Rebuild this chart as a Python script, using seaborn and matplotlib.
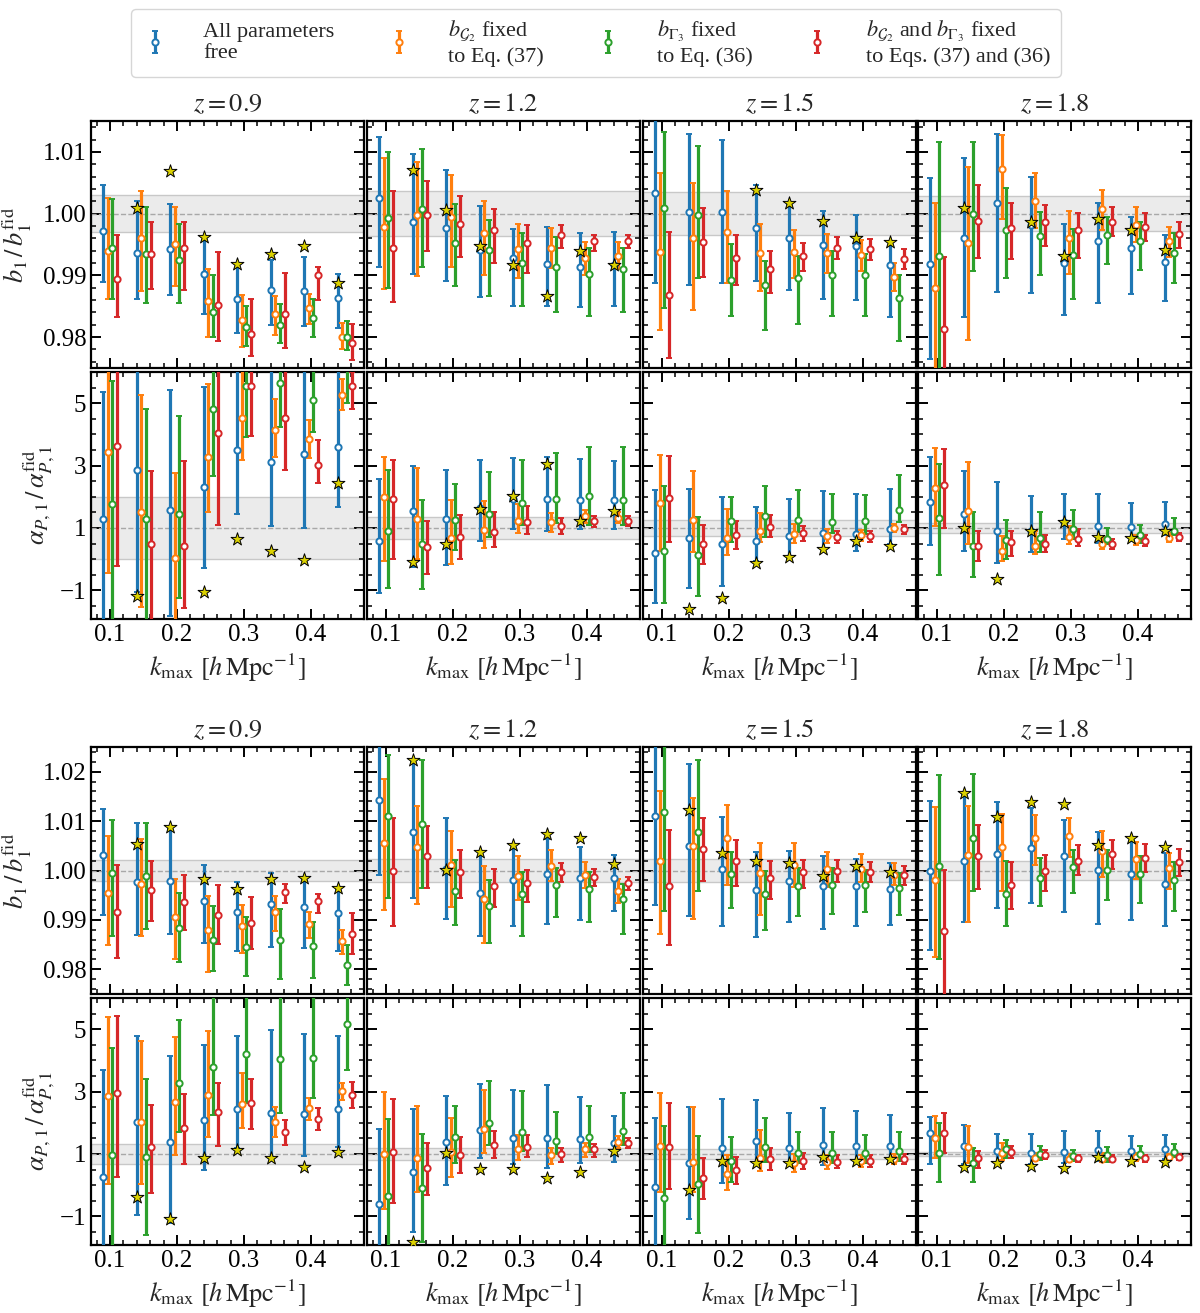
import numpy as np
import matplotlib
matplotlib.use("Agg")
import matplotlib.pyplot as plt
import seaborn as sns
from matplotlib.ticker import MultipleLocator, FixedLocator, FormatStrFormatter

nan = np.nan
KMAX = [0.10, 0.15, 0.20, 0.25, 0.30, 0.35, 0.40, 0.45]
REDSHIFTS = ["0.9", "1.2", "1.5", "1.8"]
SERIES_LABELS = [
    "All parameters\nfree",
    "$b_{\\mathcal{G}_2}$ fixed\nto Eq. (37)",
    "$b_{\\Gamma_3}$ fixed\nto Eq. (36)",
    "$b_{\\mathcal{G}_2}$ and $b_{\\Gamma_3}$ fixed\nto Eqs. (37) and (36)",
]

# ---------------- block A (top) : b1 ----------------
A_B1_Z09_MID = [[0.9972,0.9936,0.9943,0.9903,0.9861,0.9876,0.9874,0.9864],
                [0.9940,0.9960,0.9951,0.9859,0.9828,0.9837,0.9847,0.9801],
                [0.9945,0.9934,0.9925,0.9840,0.9816,0.9820,0.9831,0.9801],
                [0.9894,0.9935,0.9945,0.9852,0.9805,0.9837,0.9900,0.9790]]
A_B1_Z09_LO = [[0.9889,0.9862,0.9868,0.9837,0.9807,0.9820,0.9818,0.9815],
               [0.9861,0.9875,0.9882,0.9801,0.9784,0.9804,0.9821,0.9780],
               [0.9862,0.9855,0.9855,0.9800,0.9785,0.9790,0.9801,0.9779],
               [0.9833,0.9878,0.9876,0.9793,0.9770,0.9783,0.9860,0.9763]]
A_B1_Z09_HI = [[1.0047,1.0020,1.0016,0.9957,0.9912,0.9925,0.9929,0.9902],
               [1.0026,1.0037,1.0010,0.9911,0.9868,0.9867,0.9870,0.9823],
               [1.0023,1.0010,0.9984,0.9901,0.9851,0.9853,0.9861,0.9826],
               [0.9965,0.9986,0.9987,0.9938,0.9862,0.9904,0.9914,0.9821]]
A_B1_Z09_STAR = [nan,1.0009,1.0069,0.9962,0.9919,0.9934,0.9948,0.9888]

A_B1_Z12_MID = [[1.0026,0.9986,0.9976,0.9941,0.9928,0.9918,0.9913,0.9916],
                [0.9979,0.9997,0.9995,0.9968,0.9942,0.9945,0.9928,0.9932],
                [0.9993,1.0008,0.9953,0.9941,0.9920,0.9913,0.9903,0.9910],
                [0.9944,0.9998,0.9984,0.9974,0.9952,0.9966,0.9956,0.9956]]
A_B1_Z12_LO = [[0.9914,0.9903,0.9891,0.9865,0.9851,0.9850,0.9848,0.9850],
               [0.9878,0.9899,0.9913,0.9900,0.9895,0.9912,0.9901,0.9910],
               [0.9879,0.9913,0.9882,0.9867,0.9850,0.9841,0.9835,0.9840],
               [0.9857,0.9939,0.9929,0.9920,0.9904,0.9944,0.9940,0.9944]]
A_B1_Z12_HI = [[1.0124,1.0097,1.0071,1.0013,0.9975,0.9978,0.9969,0.9970],
               [1.0090,1.0084,1.0063,1.0020,0.9983,0.9976,0.9954,0.9954],
               [1.0100,1.0105,1.0015,0.9990,0.9969,0.9962,0.9945,0.9945],
               [1.0036,1.0053,1.0029,1.0008,0.9982,0.9982,0.9966,0.9965]]
A_B1_Z12_STAR = [nan,1.0070,1.0006,0.9948,0.9916,0.9866,0.9940,0.9917]

A_B1_Z15_MID = [[1.0033,1.0003,1.0003,0.9976,0.9960,0.9950,0.9947,0.9917],
                [0.9938,0.9961,0.9971,0.9936,0.9938,0.9936,0.9933,0.9898],
                [1.0009,0.9998,0.9893,0.9884,0.9895,0.9901,0.9901,0.9864],
                [0.9868,0.9954,0.9928,0.9911,0.9932,0.9945,0.9943,0.9927]]
A_B1_Z15_LO = [[0.9888,0.9884,0.9887,0.9891,0.9877,0.9862,0.9860,0.9832],
               [0.9811,0.9844,0.9887,0.9874,0.9895,0.9904,0.9907,0.9874],
               [0.9847,0.9896,0.9834,0.9812,0.9822,0.9834,0.9835,0.9794],
               [0.9766,0.9897,0.9884,0.9871,0.9907,0.9926,0.9925,0.9910]]
A_B1_Z15_HI = [[1.0160,1.0129,1.0119,1.0046,1.0016,1.0005,0.9997,0.9955],
               [1.0065,1.0049,1.0037,0.9983,0.9974,0.9967,0.9958,0.9920],
               [1.0132,1.0110,0.9951,0.9924,0.9931,0.9939,0.9934,0.9901],
               [0.9971,1.0009,0.9966,0.9940,0.9953,0.9962,0.9959,0.9942]]
A_B1_Z15_STAR = [nan,nan,1.0162,1.0039,1.0017,0.9988,0.9960,0.9954]

A_B1_Z18_MID = [[0.9919,0.9961,1.0017,0.9982,0.9920,0.9955,0.9945,0.9922],
                [0.9879,0.9953,1.0072,1.0020,0.9960,1.0007,0.9982,0.9955],
                [0.9931,1.0000,0.9973,0.9963,0.9933,0.9966,0.9956,0.9937],
                [0.9813,0.9988,0.9977,0.9986,0.9974,0.9987,0.9979,0.9967]]
A_B1_Z18_LO = [[0.9764,0.9832,0.9873,0.9871,0.9836,0.9855,0.9870,0.9859],
               [0.9720,0.9796,0.9991,0.9976,0.9902,0.9974,0.9954,0.9929],
               [0.9730,0.9907,0.9896,0.9900,0.9862,0.9919,0.9909,0.9888],
               [0.9700,0.9928,0.9927,0.9948,0.9928,0.9963,0.9956,0.9944]]
A_B1_Z18_HI = [[1.0058,1.0090,1.0129,1.0059,0.9984,1.0018,0.9995,0.9966],
               [1.0018,1.0075,1.0127,1.0065,1.0004,1.0039,1.0011,0.9979],
               [1.0116,1.0116,1.0041,1.0003,0.9975,0.9995,0.9986,0.9968],
               [0.9929,1.0046,1.0018,1.0014,1.0001,1.0011,1.0001,0.9987]]
A_B1_Z18_STAR = [nan,1.0009,nan,0.9986,0.9932,0.9992,0.9973,0.9941]

# ---------------- block A (top) : alpha_P,1 ----------------
A_AL_Z09_MID = [[1.30,2.87,1.59,2.30,3.50,3.11,3.38,3.59],
                [3.42,1.51,0.03,3.29,4.52,4.15,3.84,5.27],
                [1.76,1.28,1.46,4.82,5.54,5.66,5.10,6.20],
                [3.63,0.47,0.41,4.06,5.55,4.52,3.02,5.54]]
A_AL_Z09_LO = [[-2.80,-1.04,-1.82,-0.27,1.44,1.06,1.00,1.68],
               [-0.46,-1.53,-2.70,1.52,3.19,3.27,3.23,4.79],
               [-2.20,-2.20,-1.26,2.68,3.93,4.25,4.07,4.99],
               [-0.21,-2.40,-1.58,1.09,3.96,2.87,2.43,4.82]]
A_AL_Z09_HI = [[5.35,6.80,5.42,5.51,6.50,6.50,6.50,6.50],
               [7.00,5.26,2.76,5.62,6.30,5.12,4.47,5.76],
               [5.71,4.80,4.58,7.00,7.00,7.00,6.10,7.40],
               [7.50,2.84,3.15,7.00,7.00,6.50,3.81,6.00]]
A_AL_Z09_STAR = [nan,-1.19,nan,-1.04,0.66,0.25,-0.02,2.43]

A_AL_Z12_MID = [[0.59,1.53,1.30,1.64,1.93,1.92,1.89,1.89],
                [1.98,1.30,0.68,0.94,1.22,1.19,1.38,1.32],
                [0.90,0.47,1.26,1.45,1.81,1.94,2.02,1.89],
                [1.94,0.39,0.70,0.88,1.20,1.05,1.22,1.22]]
A_AL_Z12_LO = [[-1.10,-0.25,-0.20,0.57,0.95,0.91,0.98,0.98],
               [-0.06,-0.01,-0.15,0.36,0.83,0.87,1.16,1.15],
               [-0.92,-0.95,0.28,0.71,1.11,1.16,1.11,1.09],
               [-0.01,-0.49,0.01,0.39,0.79,0.80,1.03,1.05]]
A_AL_Z12_HI = [[2.56,2.99,2.87,3.19,3.25,3.28,3.20,3.16],
               [3.27,2.92,1.88,1.85,1.78,1.49,1.58,1.50],
               [2.86,1.91,2.42,2.79,3.19,3.41,3.61,3.59],
               [3.17,1.23,1.41,1.50,1.69,1.32,1.39,1.37]]
A_AL_Z12_STAR = [nan,-0.09,0.49,1.61,2.01,3.06,1.22,1.53]

A_AL_Z15_MID = [[0.19,0.68,0.48,0.59,0.73,0.84,0.81,0.96],
                [1.80,1.26,0.68,0.90,0.82,0.73,0.77,1.00],
                [0.25,0.12,1.23,1.38,1.27,1.19,1.21,1.58],
                [1.96,0.49,0.78,1.02,0.83,0.70,0.73,0.95]]
A_AL_Z15_LO = [[-1.40,-0.92,-0.86,-0.07,-0.01,0.31,0.25,0.47],
               [0.27,0.24,0.12,0.54,0.52,0.53,0.57,0.86],
               [-1.42,-1.17,0.54,0.71,0.86,0.85,0.82,1.19],
               [0.54,-0.17,0.34,0.70,0.57,0.51,0.55,0.81]]
A_AL_Z15_HI = [[2.22,2.26,1.98,1.66,1.94,2.17,2.10,2.25],
               [3.34,2.82,1.62,1.48,1.13,0.98,0.94,1.13],
               [2.36,1.35,1.99,2.36,2.23,2.08,2.07,2.70],
               [3.31,1.11,1.22,1.41,1.07,0.90,0.91,1.11]]
A_AL_Z15_STAR = [nan,-1.60,-1.26,-0.12,0.06,0.31,0.59,0.43]

A_AL_Z18_MID = [[1.82,1.46,0.89,0.91,1.20,1.06,1.03,1.13],
                [2.28,1.53,0.25,0.41,0.70,0.47,0.61,0.69],
                [1.32,0.42,0.61,0.68,0.98,0.66,0.77,0.91],
                [2.39,0.42,0.54,0.50,0.65,0.49,0.57,0.71]]
A_AL_Z18_LO = [[0.45,0.25,-0.13,0.22,0.65,0.52,0.59,0.77],
               [1.07,0.50,-0.07,0.17,0.47,0.31,0.45,0.54],
               [-0.52,-0.58,0.01,0.23,0.63,0.47,0.52,0.77],
               [1.00,-0.06,0.10,0.23,0.43,0.31,0.43,0.57]]
A_AL_Z18_HI = [[3.29,2.84,2.47,2.01,2.09,2.10,1.80,1.82],
               [3.56,3.13,0.73,0.89,1.05,0.73,0.77,0.84],
               [3.04,1.52,1.27,1.51,1.59,1.00,1.11,1.32],
               [3.52,0.89,0.91,0.77,0.95,0.63,0.77,0.84]]
A_AL_Z18_STAR = [nan,1.00,-0.65,0.91,1.19,0.70,0.68,0.89]

# ---------------- block B (bottom) : b1 ----------------
B_B1_Z09_MID = [[1.0032,0.9977,0.9979,0.9939,0.9917,0.9933,0.9927,0.9913],
                [0.9954,0.9972,0.9906,0.9880,0.9888,0.9916,0.9891,0.9857],
                [0.9995,0.9989,0.9884,0.9859,0.9846,0.9859,0.9847,0.9809],
                [0.9915,0.9960,0.9936,0.9909,0.9894,0.9957,0.9938,0.9871]]
B_B1_Z09_LO = [[0.9910,0.9870,0.9871,0.9854,0.9838,0.9845,0.9843,0.9838],
               [0.9849,0.9867,0.9820,0.9795,0.9834,0.9877,0.9864,0.9831],
               [0.9867,0.9882,0.9815,0.9797,0.9786,0.9781,0.9783,0.9768],
               [0.9822,0.9898,0.9879,0.9852,0.9842,0.9934,0.9913,0.9830]]
B_B1_Z09_HI = [[1.0125,1.0096,1.0085,1.0012,0.9976,0.9995,0.9982,0.9963],
               [1.0069,1.0063,0.9983,0.9948,0.9931,0.9948,0.9917,0.9880],
               [1.0103,1.0097,0.9954,0.9928,0.9905,0.9923,0.9895,0.9850],
               [1.0012,1.0020,0.9991,0.9970,0.9946,0.9973,0.9952,0.9914]]
B_B1_Z09_STAR = [nan,1.0054,1.0088,0.9983,0.9962,0.9983,0.9985,0.9965]

B_B1_Z12_MID = [[1.0143,1.0077,1.0004,0.9954,0.9981,0.9992,0.9984,0.9985],
                [1.0056,1.0047,1.0011,0.9942,0.9989,1.0010,0.9991,0.9958],
                [1.0110,1.0094,0.9959,0.9928,0.9952,0.9971,0.9962,0.9942],
                [1.0000,1.0029,0.9997,0.9968,0.9974,0.9997,0.9987,0.9974]]
B_B1_Z12_LO = [[0.9991,0.9945,0.9902,0.9867,0.9888,0.9892,0.9899,0.9919],
               [0.9921,0.9933,0.9927,0.9853,0.9940,0.9978,0.9965,0.9934],
               [0.9944,0.9964,0.9889,0.9853,0.9867,0.9906,0.9896,0.9871],
               [0.9887,0.9964,0.9944,0.9926,0.9936,0.9976,0.9968,0.9960]]
B_B1_Z12_HI = [[1.0260,1.0219,1.0106,1.0030,1.0044,1.0064,1.0047,1.0032],
               [1.0185,1.0131,1.0080,1.0009,1.0030,1.0042,1.0018,0.9982],
               [1.0234,1.0223,1.0021,0.9981,0.9997,1.0005,0.9997,0.9973],
               [1.0106,1.0090,1.0042,1.0003,1.0001,1.0016,1.0003,0.9987]]
B_B1_Z12_STAR = [nan,1.0224,1.0001,1.0038,1.0051,1.0073,1.0066,1.0014]

B_B1_Z15_MID = [[1.0110,1.0050,1.0004,0.9961,0.9979,0.9968,0.9968,0.9963],
                [1.0020,1.0049,1.0065,0.9994,1.0012,1.0003,1.0004,0.9991],
                [1.0119,1.0078,0.9993,0.9952,0.9969,0.9970,0.9971,0.9965],
                [0.9968,1.0044,1.0020,0.9985,0.9996,1.0000,0.9997,0.9991]]
B_B1_Z15_LO = [[0.9931,0.9908,0.9888,0.9865,0.9896,0.9882,0.9888,0.9890],
               [0.9871,0.9902,0.9971,0.9909,0.9966,0.9966,0.9976,0.9971],
               [0.9918,0.9959,0.9924,0.9880,0.9908,0.9911,0.9917,0.9910],
               [0.9849,0.9978,0.9968,0.9943,0.9965,0.9976,0.9976,0.9971]]
B_B1_Z15_HI = [[1.0270,1.0216,1.0108,1.0037,1.0040,1.0030,1.0024,1.0015],
               [1.0161,1.0147,1.0133,1.0055,1.0055,1.0038,1.0033,1.0015],
               [1.0280,1.0224,1.0038,1.0000,1.0005,1.0005,1.0002,0.9995],
               [1.0082,1.0106,1.0061,1.0020,1.0022,1.0022,1.0018,1.0009]]
B_B1_Z15_STAR = [nan,1.0123,1.0036,1.0020,1.0016,0.9989,1.0009,0.9997]

B_B1_Z18_MID = [[0.9999,1.0020,1.0034,1.0045,1.0030,1.0001,0.9992,0.9972],
                [0.9981,1.0032,1.0047,1.0066,1.0069,1.0040,1.0024,1.0006],
                [1.0010,1.0066,0.9952,0.9985,1.0007,1.0002,0.9993,0.9980],
                [0.9877,1.0029,0.9971,0.9998,1.0020,1.0034,1.0026,1.0017]]
B_B1_Z18_LO = [[0.9840,0.9896,0.9924,0.9934,0.9917,0.9892,0.9900,0.9888],
               [0.9824,0.9895,0.9958,1.0011,1.0027,0.9987,0.9982,0.9963],
               [0.9820,0.9959,0.9887,0.9929,0.9955,0.9941,0.9934,0.9919],
               [0.9720,0.9963,0.9923,0.9959,0.9990,1.0003,0.9997,0.9989]]
B_B1_Z18_HI = [[1.0141,1.0153,1.0138,1.0126,1.0103,1.0077,1.0057,1.0035],
               [1.0128,1.0130,1.0115,1.0113,1.0107,1.0079,1.0057,1.0036],
               [1.0193,1.0195,1.0019,1.0026,1.0042,1.0042,1.0030,1.0018],
               [1.0001,1.0092,1.0017,1.0032,1.0051,1.0062,1.0053,1.0043]]
B_B1_Z18_STAR = [nan,1.0157,1.0108,1.0139,1.0135,1.0051,1.0066,1.0047]

# ---------------- block B (bottom) : alpha_P,1 ----------------
B_AL_Z09_MID = [[0.26,2.04,1.39,2.08,2.43,2.32,2.27,2.44],
                [2.87,2.04,2.65,2.89,2.59,2.04,2.46,3.02],
                [0.97,0.89,3.29,3.80,4.21,4.06,4.09,5.18],
                [2.95,1.22,1.84,2.36,2.64,1.69,2.11,2.89]]
B_AL_Z09_LO = [[-3.00,-0.97,-1.20,0.47,1.18,0.88,0.93,1.23],
               [0.03,0.03,0.97,1.55,1.84,1.53,2.09,2.73],
               [-2.40,-1.59,1.69,2.25,2.62,2.30,2.80,3.69],
               [0.25,-0.26,0.67,1.26,1.79,1.29,1.77,2.46]]
B_AL_Z09_HI = [[3.68,4.79,4.14,4.49,4.78,4.96,4.86,4.79],
               [5.40,4.62,4.76,4.94,3.60,2.49,2.80,3.29],
               [4.40,3.39,5.31,6.50,6.50,6.50,6.50,6.50],
               [5.43,2.57,2.91,3.28,3.40,2.09,2.46,3.32]]
B_AL_Z09_STAR = [nan,-0.39,-1.10,0.86,1.13,0.86,0.59,1.07]

B_AL_Z12_MID = [[-0.59,0.43,1.37,1.77,1.50,1.50,1.47,1.34],
                [1.00,0.86,1.05,1.80,1.16,0.95,1.16,1.39],
                [-0.36,-0.08,1.53,1.98,1.69,1.43,1.55,1.75],
                [1.06,0.54,0.97,1.29,1.23,0.99,1.16,1.34]]
B_AL_Z12_LO = [[-3.00,-1.51,0.01,0.86,0.67,0.56,0.71,0.73],
               [-0.77,-0.21,0.27,1.02,0.80,0.69,0.91,1.20],
               [-2.50,-1.81,0.70,1.29,1.10,0.99,1.07,1.29],
               [-0.58,-0.31,0.40,0.88,0.90,0.75,0.91,1.18]]
B_AL_Z12_HI = [[1.80,2.43,2.86,3.23,3.06,3.21,2.82,2.22],
               [2.97,2.54,2.14,3.05,1.61,1.20,1.34,1.59],
               [2.12,1.63,2.55,3.35,3.02,2.36,2.53,2.96],
               [2.75,1.34,1.54,1.72,1.61,1.20,1.33,1.50]]
B_AL_Z12_STAR = [nan,-1.83,1.04,0.51,0.51,0.22,0.43,1.11]

B_AL_Z15_MID = [[-0.05,0.72,1.20,1.42,1.20,1.29,1.27,1.27],
                [1.27,0.75,0.36,0.88,0.70,0.73,0.78,0.84],
                [-0.42,0.03,0.78,1.23,1.04,1.04,1.02,1.10],
                [1.23,0.22,0.49,0.83,0.78,0.73,0.78,0.84]]
B_AL_Z15_LO = [[-2.50,-1.10,0.08,0.70,0.70,0.63,0.75,0.78],
               [-0.23,-0.21,-0.15,0.46,0.43,0.52,0.59,0.67],
               [-2.40,-1.54,0.11,0.75,0.70,0.70,0.70,0.78],
               [-0.13,-0.45,0.04,0.49,0.52,0.54,0.59,0.67]]
B_AL_Z15_HI = [[2.16,2.52,2.76,2.73,2.32,2.48,2.38,2.25],
               [2.94,2.52,0.95,1.77,0.99,0.97,0.95,0.99],
               [1.90,1.58,1.53,2.16,1.69,1.69,1.61,1.69],
               [2.62,0.86,0.91,1.18,1.02,0.95,0.95,0.99]]
B_AL_Z15_STAR = [nan,-0.15,0.78,0.70,0.70,0.91,0.78,0.84]

B_AL_Z18_MID = [[1.68,1.26,1.10,1.02,1.07,1.13,1.11,1.16],
                [1.52,1.21,1.02,0.88,0.83,0.83,0.91,0.91],
                [1.04,0.72,1.15,1.00,0.94,0.95,1.00,1.07],
                [1.68,0.86,1.07,0.97,0.86,0.84,0.86,0.91]]
B_AL_Z18_LO = [[0.67,0.67,0.73,0.67,0.70,0.78,0.78,0.84],
               [0.86,0.70,0.81,0.78,0.73,0.73,0.78,0.81],
               [0.11,0.11,0.88,0.81,0.78,0.73,0.86,0.91],
               [1.02,0.56,0.88,0.84,0.75,0.73,0.75,0.81]]
B_AL_Z18_HI = [[2.17,1.93,1.63,1.63,1.72,1.72,1.58,1.60],
               [2.21,1.88,1.34,1.02,0.99,1.02,1.04,1.00],
               [1.98,1.18,1.45,1.27,1.13,1.21,1.26,1.31],
               [2.30,1.10,1.26,1.13,0.97,0.97,0.97,1.00]]
B_AL_Z18_STAR = [nan,0.59,0.70,0.62,0.54,0.91,0.78,0.75]

# half-widths of the grey reference bands
BAND_A_B1 = [0.0030, 0.0036, 0.0035, 0.0028]
BAND_A_AL = [1.00, 0.35, 0.26, 0.16]
BAND_B_B1 = [0.0022, 0.0023, 0.0024, 0.0020]
BAND_B_AL = [0.31, 0.20, 0.15, 0.06]

# ---------------- style ----------------
COLORS = ["#1f77b4", "#ff7f0e", "#2ca02c", "#d62728"]
OFFSETS = [-0.0105, -0.0035, 0.0035, 0.0105]
STAR_COLOR = "#dcd200"

sns.set_theme(style="ticks")
plt.rcParams["font.family"] = ["Liberation Serif", "DejaVu Serif"]
plt.rcParams["mathtext.fontset"] = "stix"
plt.rcParams["axes.linewidth"] = 1.5
plt.rcParams["axes.edgecolor"] = "black"

PANELS = {
    ("A", "b1"): [(A_B1_Z09_MID, A_B1_Z09_LO, A_B1_Z09_HI, A_B1_Z09_STAR),
                  (A_B1_Z12_MID, A_B1_Z12_LO, A_B1_Z12_HI, A_B1_Z12_STAR),
                  (A_B1_Z15_MID, A_B1_Z15_LO, A_B1_Z15_HI, A_B1_Z15_STAR),
                  (A_B1_Z18_MID, A_B1_Z18_LO, A_B1_Z18_HI, A_B1_Z18_STAR)],
    ("A", "al"): [(A_AL_Z09_MID, A_AL_Z09_LO, A_AL_Z09_HI, A_AL_Z09_STAR),
                  (A_AL_Z12_MID, A_AL_Z12_LO, A_AL_Z12_HI, A_AL_Z12_STAR),
                  (A_AL_Z15_MID, A_AL_Z15_LO, A_AL_Z15_HI, A_AL_Z15_STAR),
                  (A_AL_Z18_MID, A_AL_Z18_LO, A_AL_Z18_HI, A_AL_Z18_STAR)],
    ("B", "b1"): [(B_B1_Z09_MID, B_B1_Z09_LO, B_B1_Z09_HI, B_B1_Z09_STAR),
                  (B_B1_Z12_MID, B_B1_Z12_LO, B_B1_Z12_HI, B_B1_Z12_STAR),
                  (B_B1_Z15_MID, B_B1_Z15_LO, B_B1_Z15_HI, B_B1_Z15_STAR),
                  (B_B1_Z18_MID, B_B1_Z18_LO, B_B1_Z18_HI, B_B1_Z18_STAR)],
    ("B", "al"): [(B_AL_Z09_MID, B_AL_Z09_LO, B_AL_Z09_HI, B_AL_Z09_STAR),
                  (B_AL_Z12_MID, B_AL_Z12_LO, B_AL_Z12_HI, B_AL_Z12_STAR),
                  (B_AL_Z15_MID, B_AL_Z15_LO, B_AL_Z15_HI, B_AL_Z15_STAR),
                  (B_AL_Z18_MID, B_AL_Z18_LO, B_AL_Z18_HI, B_AL_Z18_STAR)],
}
BANDS = {("A", "b1"): BAND_A_B1, ("A", "al"): BAND_A_AL,
         ("B", "b1"): BAND_B_B1, ("B", "al"): BAND_B_AL}

W, H = 1200, 1313
fig = plt.figure(figsize=(W / 100, H / 100), dpi=100)
COL_LEFT = [91, 367, 643, 918]
COL_W = 273
ROW_TOPS = {("A", "b1"): 121, ("A", "al"): 372, ("B", "b1"): 747, ("B", "al"): 998}
ROW_H = 247
YLIMS = {("A", "b1"): (0.975, 1.015), ("A", "al"): (-1.92, 6.0),
         ("B", "b1"): (0.975, 1.025), ("B", "al"): (-1.92, 6.0)}

handles = []
for key, panels in PANELS.items():
    block, qty = key
    for ci, (mid, lo, hi, star) in enumerate(panels):
        top = ROW_TOPS[key]
        ax = fig.add_axes([COL_LEFT[ci] / W, 1 - (top + ROW_H) / H, COL_W / W, ROW_H / H])
        bw = BANDS[key][ci]
        ax.axhspan(1 - bw, 1 + bw, facecolor="#ebebeb", edgecolor="#c8c8c8",
                   linewidth=1.0, zorder=0)
        ax.axhline(1.0, color="#a8a8a8", ls="--", lw=1.0, zorder=1)
        for si in range(4):
            m = np.array(mid[si]); l = np.array(lo[si]); h = np.array(hi[si])
            x = np.array(KMAX) + OFFSETS[si]
            eb = ax.errorbar(x, m, yerr=[m - l, h - m], fmt="o", color=COLORS[si],
                             mfc="white", mec=COLORS[si], ms=4.5, mew=1.4,
                             elinewidth=2.3, capsize=2.2, capthick=1.6, zorder=3,
                             label=SERIES_LABELS[si])
            if key == ("A", "b1") and ci == 0:
                handles.append(eb)
        sx = np.array(KMAX) + OFFSETS[0]
        sns.scatterplot(x=sx, y=np.array(star), marker="*", s=95, color=STAR_COLOR,
                        edgecolor="black", linewidth=0.7, zorder=5, legend=False, ax=ax)
        ax.set_xlim(0.0715, 0.479)
        ax.set_ylim(*YLIMS[key])
        ax.xaxis.set_major_locator(FixedLocator([0.1, 0.2, 0.3, 0.4]))
        ax.xaxis.set_minor_locator(MultipleLocator(0.02))
        if qty == "b1":
            ax.yaxis.set_major_locator(MultipleLocator(0.01))
            ax.yaxis.set_minor_locator(MultipleLocator(0.002))
            ax.yaxis.set_major_formatter(FormatStrFormatter("%.2f"))
            ax.set_title("$z = %s$" % REDSHIFTS[ci], fontsize=19, pad=7)
            ax.tick_params(axis="x", labelbottom=False)
        else:
            ax.yaxis.set_major_locator(FixedLocator([-1, 1, 3, 5]))
            ax.yaxis.set_minor_locator(MultipleLocator(0.5))
            ax.xaxis.set_major_formatter(FormatStrFormatter("%.1f"))
            ax.set_xlabel("$k_{\\rm max}\\ [h\\,{\\rm Mpc}^{-1}]$", fontsize=19, labelpad=4)
        ax.tick_params(which="both", direction="in", top=True, right=True,
                       labelsize=18, colors="black")
        ax.tick_params(which="major", length=7, width=1.4)
        ax.tick_params(which="minor", length=3.5, width=1.1)
        if ci == 0:
            if qty == "b1":
                ax.set_ylabel("$b_1\\,/\\,b_1^{\\rm fid}$", fontsize=19, labelpad=6)
            else:
                ax.set_ylabel("$\\alpha_{P,1}\\,/\\,\\alpha_{P,1}^{\\rm fid}$", fontsize=19, labelpad=2)
        else:
            ax.tick_params(axis="y", labelleft=False)
        for sp in ax.spines.values():
            sp.set_linewidth(1.6)

leg = fig.legend(handles=handles, labels=SERIES_LABELS, loc="center",
                 bbox_to_anchor=(596 / W, 1 - 43 / H), ncol=4, fontsize=16,
                 frameon=True, fancybox=True, edgecolor="#cccccc",
                 columnspacing=2.3, handletextpad=1.6, handlelength=1.2,
                 borderpad=0.45, labelspacing=0.3)
leg.get_frame().set_linewidth(1.0)

fig.savefig("out.png", dpi=100, facecolor="white")
